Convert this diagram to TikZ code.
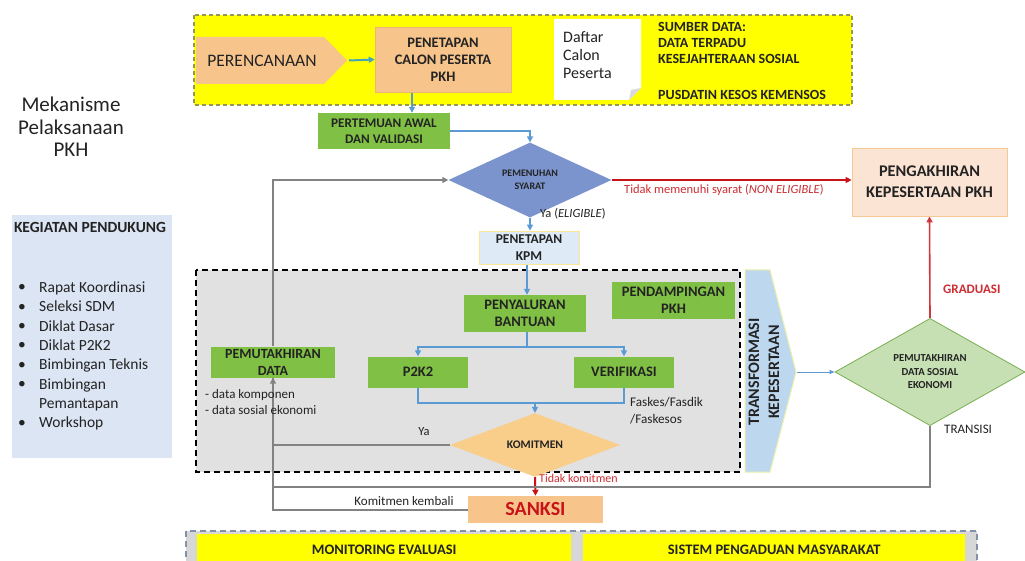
\documentclass[tikz,border=0pt]{standalone}
\usepackage{fontspec}
\setmainfont{Carlito}
\usetikzlibrary{shapes.geometric,arrows.meta}
\newcommand{\fsz}[2]{\fontsize{#1}{#2}\selectfont}
\definecolor{txt}{RGB}{35,35,35}
\definecolor{ylw}{RGB}{255,255,0}
\definecolor{ylwborder}{RGB}{150,150,90}
\definecolor{peach}{RGB}{247,196,140}
\definecolor{peachborder}{RGB}{238,180,120}
\definecolor{grn}{RGB}{128,192,68}
\definecolor{dia}{RGB}{124,148,206}
\definecolor{kpmfill}{RGB}{222,235,247}
\definecolor{kpmborder}{RGB}{255,230,150}
\definecolor{regiongray}{RGB}{225,225,225}
\definecolor{kegfill}{RGB}{219,229,243}
\definecolor{pkhfill}{RGB}{252,228,212}
\definecolor{pkhborder}{RGB}{246,200,150}
\definecolor{komitc}{RGB}{249,205,138}
\definecolor{transc}{RGB}{189,215,238}
\definecolor{transborder}{RGB}{235,240,170}
\definecolor{sosekc}{RGB}{198,224,180}
\definecolor{sosekborder}{RGB}{120,175,80}
\definecolor{bl}{RGB}{91,155,213}
\definecolor{tealc}{RGB}{70,165,185}
\definecolor{gl}{RGB}{130,130,130}
\definecolor{rd}{RGB}{200,20,25}
\definecolor{rdtxt}{RGB}{205,45,50}
\definecolor{bottomgray}{RGB}{215,215,215}
\definecolor{bottomborder}{RGB}{130,145,170}
\pgfdeclarelayer{back}
\pgfdeclarelayer{lines}
\pgfsetlayers{back,lines,main}
\begin{document}
\begin{tikzpicture}[x=1pt,y=-1pt,
  every node/.style={inner sep=0pt, text=txt},
  tip/.style={-{Triangle[length=6pt,width=6pt]}},
  blueline/.style={draw=bl, line width=2pt},
  grayline/.style={draw=gl, line width=2pt},
  redline/.style={draw=rd, line width=2pt},
  greenbox/.style={rectangle, fill=grn, align=center, font=\bfseries\fsz{14.5}{17}},
  peachbox/.style={rectangle, fill=peach, align=center},
  lbl/.style={font=\fsz{12.5}{15}},
]
\useasboundingbox (0,0) rectangle (1025,561);
\begin{pgfonlayer}{back}
\fill[white] (0,0) rectangle (1025,561);
\filldraw[fill=ylw, draw=ylwborder, line width=1.2pt, dash pattern=on 4pt off 3pt] (194,15) rectangle (852,105);
\filldraw[fill=regiongray, draw=black, line width=2pt, dash pattern=on 6pt off 4pt] (196,270) rectangle (740,472);
\filldraw[fill=bottomgray, draw=bottomborder, line width=1.5pt, dash pattern=on 6pt off 4pt] (186,531) rectangle (977,580);
\end{pgfonlayer}

% ---------- left column ----------
\node[align=center, font=\fsz{21}{22.5}] (title) at (71,127) {Mekanisme\\Pelaksanaan\\PKH};
\node[fill=kegfill, minimum width=160pt, minimum height=243pt, anchor=north west] (keg) at (12,215) {};
\node[font=\bfseries\fsz{15.5}{18}] (kegt) at (90,227) {KEGIATAN PENDUKUNG};
\node[align=center, font=\fsz{15.5}{19.3}] (bul) at (22,356) {•\\•\\•\\•\\•\\•\\\phantom{•}\\•};
\node[align=left, anchor=west, font=\fsz{15.5}{19.3}] (items) at (39,356) {Rapat Koordinasi\\Seleksi SDM\\Diklat Dasar\\Diklat P2K2\\Bimbingan Teknis\\Bimbingan\\Pemantapan\\Workshop};

% ---------- top yellow band ----------
\fill[peach] (196,37) -- (324,37) -- (347,60.5) -- (324,84) -- (196,84) -- cycle;
\node[font=\fsz{17.5}{20}] (plan) at (262,60.5) {PERENCANAAN};
\coordinate (plantip) at (349,60.5);

\node[peachbox, draw=peachborder, line width=0.6pt, minimum width=136pt, minimum height=65pt, font=\bfseries\fsz{14.5}{17}] (pen) at (443,59.5) {PENETAPAN\\CALON PESERTA\\PKH};

\fill[white] (554,19) -- (641,19) -- (641,88) -- (629,100) -- (554,100) -- cycle;
\fill[black!15] (629,100) -- (631,90) -- (641,88) -- cycle;
\node[align=left, anchor=west, font=\fsz{16}{18}] (daftar) at (563,55) {Daftar\\Calon\\Peserta};

\node[align=left, anchor=west, font=\bfseries\fsz{14}{16}] (sumber) at (658,43) {SUMBER DATA:\\DATA TERPADU\\KESEJAHTERAAN SOSIAL};
\node[anchor=west, font=\bfseries\fsz{14}{16}] (pusdatin) at (658,95) {PUSDATIN KESOS KEMENSOS};

% ---------- main flow ----------
\node[greenbox, minimum width=132pt, minimum height=36pt, font=\bfseries\fsz{13.2}{16}] (pert) at (384,131) {PERTEMUAN AWAL\\DAN VALIDASI};
\node[diamond, fill=dia, minimum width=163pt, minimum height=52pt, align=center, font=\bfseries\fsz{10}{12.5}] (syarat) at (530,180) {PEMENUHAN\\SYARAT};
\node[rectangle, fill=pkhfill, draw=pkhborder, line width=0.8pt, minimum width=155pt, minimum height=68pt, align=center, font=\bfseries\fsz{16.3}{21}] (pkh) at (929.5,182) {PENGAKHIRAN\\KEPESERTAAN PKH};
\node[rectangle, fill=kpmfill, draw=kpmborder, line width=0.8pt, minimum width=100pt, minimum height=33pt, align=center, font=\bfseries\fsz{13.5}{16.5}] (kpm) at (529,247.5) {PENETAPAN\\KPM};

\node[greenbox, minimum width=122pt, minimum height=37pt] (peny) at (525,313.5) {PENYALURAN\\BANTUAN};
\node[greenbox, minimum width=123pt, minimum height=36pt] (pend) at (673.5,300.5) {PENDAMPINGAN\\PKH};
\node[greenbox, minimum width=100pt, minimum height=31pt] (p2k2) at (418,372) {P2K2};
\node[greenbox, minimum width=100pt, minimum height=31pt] (verif) at (624,372) {VERIFIKASI};
\node[greenbox, minimum width=124pt, minimum height=31pt, font=\bfseries\fsz{14}{17}] (pemut) at (273,362) {PEMUTAKHIRAN\\DATA};
\node[align=left, anchor=north west, font=\fsz{13}{16.5}] (dkomp) at (205,389) {- data komponen\\- data sosial ekonomi};
\node[align=left, anchor=north west, font=\fsz{13.2}{17}] (faskes) at (630,397) {Faskes/Fasdik\\/Faskesos};
\node[diamond, fill=komitc, minimum width=170pt, minimum height=46pt, font=\bfseries\fsz{11.6}{14}] (komit) at (535,445) {KOMITMEN};
\node[peachbox, minimum width=135pt, minimum height=27pt, font=\bfseries\fsz{20}{22}, text=rd] (sanksi) at (535.5,509.5) {SANKSI};

\filldraw[fill=transc, draw=transborder, line width=1pt] (745,270) -- (770,270) -- (796,372) -- (770,472) -- (745,472) -- cycle;
\node[rotate=90, align=center, font=\bfseries\fsz{16}{20}] (trans) at (764,372) {TRANSFORMASI\\KEPESERTAAN};
\coordinate (transtip) at (797,372);

\node[diamond, fill=sosekc, draw=sosekborder, line width=0.8pt, minimum width=190pt, minimum height=80pt, align=center, font=\bfseries\fsz{10.7}{13.5}] (sosek) at (930,372) {PEMUTAKHIRAN\\DATA SOSIAL\\EKONOMI};

\node[anchor=west, font=\bfseries\fsz{13}{15}, text=rdtxt] (grad) at (943,289) {GRADUASI};
\node[anchor=west, font=\fsz{13}{15}] (transisi) at (944,429) {TRANSISI};

% ---------- bottom band ----------
\node[fill=ylw, minimum width=374pt, minimum height=32pt, anchor=north west, font=\bfseries\fsz{14.5}{17}] (monev) at (197,534) {MONITORING EVALUASI};
\node[fill=ylw, minimum width=382pt, minimum height=32pt, anchor=north west, font=\bfseries\fsz{14.5}{17}] (aduan) at (583,534) {SISTEM PENGADUAN MASYARAKAT};

% ---------- connectors ----------
\begin{pgfonlayer}{lines}
\draw[draw=tealc, line width=2pt, tip] (plantip) -- (pen.west);
\draw[blueline, tip] ([xshift=-31pt]pen.south) -- ([xshift=-31pt]pen.south |- pert.north);
\draw[blueline, tip] (pert.east) -| (syarat.north);
\draw[redline, tip] (syarat.east) -- (syarat.east -| pkh.west);
\draw[blueline, tip] (syarat.south) -- (syarat.south |- kpm.north);
\draw[blueline, tip] ([xshift=-2pt]kpm.south) -- ([xshift=-2pt]kpm.south |- peny.north);
\coordinate (br1) at (527,347);
\draw[blueline] ([xshift=2pt]peny.south) -- (br1);
\draw[blueline, tip] (br1) -| (p2k2.north);
\draw[blueline, tip] (br1) -| (verif.north);
\draw[blueline] (p2k2.south) |- (verif.south |- 0,403) -- (verif.south);
\draw[blueline, tip] (komit.north |- 0,403) -- (komit.north);
\draw[redline, tip] (komit.south) -- (sanksi.north);
\draw[grayline, tip] (sanksi.west) -| (pemut.south);
\draw[grayline] (komit.west) -- (komit.west -| pemut.south);
\draw[grayline] (sosek.south) |- (pemut.south |- 0,487) -- (pemut.south);
\draw[grayline, tip] (pemut.north) |- (syarat.west);
\draw[draw=bl, line width=1pt, -{Triangle[length=5pt,width=4pt]}] (transtip) -- (sosek.west);
\draw[draw=rd!85, line width=1.6pt, tip] (sosek.north) -- (pkh.south);
\end{pgfonlayer}

% ---------- connector labels ----------
\node[anchor=west, font=\fsz{12.5}{15}, text=rdtxt] (nonel) at (624,190) {Tidak memenuhi syarat (\textit{NON ELIGIBLE})};
\node[anchor=west, lbl] (ya1) at (540,214) {Ya (\textit{ELIGIBLE})};
\node[lbl] (ya2) at (424,432) {Ya};
\node[anchor=west, font=\fsz{12}{14}, text=rdtxt] (tkomit) at (539,478) {Tidak komitmen};
\node[font=\fsz{13}{15}] (kembali) at (404,501) {Komitmen kembali};
\end{tikzpicture}
\end{document}
